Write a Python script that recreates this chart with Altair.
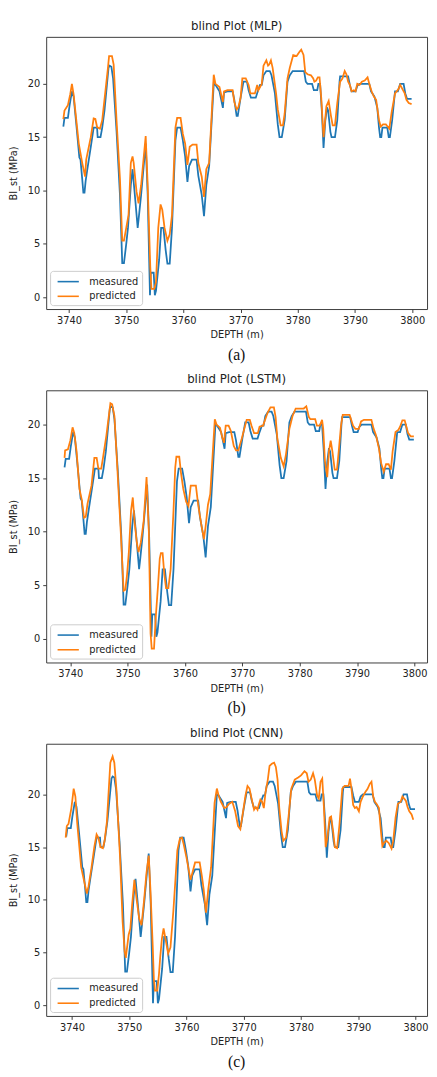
import altair as alt
import pandas as pd

# ---------------- data ----------------
MEAS_DEPTH = [3739.0, 3739.2, 3739.8, 3740.1, 3740.5, 3740.8, 3741.3, 3741.8, 3742.0, 3742.3,
              3742.5, 3742.7, 3742.9, 3743.2, 3743.8, 3744.3, 3744.9, 3745.0, 3745.5, 3745.8,
              3746.2, 3746.9, 3747.1, 3747.4, 3747.7, 3748.3, 3748.9, 3749.3, 3749.6, 3750.0,
              3750.3, 3750.8, 3751.1, 3751.6, 3752.0, 3752.2, 3752.6, 3753.4, 3753.75, 3754.15,
              3754.3, 3754.8, 3755.0, 3755.2, 3755.75, 3756.1, 3756.5, 3756.9, 3757.2, 3757.6,
              3758.0, 3758.6, 3758.9, 3759.5, 3759.9, 3760.3, 3760.7, 3761.0, 3761.5, 3762.3,
              3762.6, 3763.2, 3763.6, 3764.0, 3764.5, 3765.3, 3765.6, 3766.3, 3766.9, 3767.1,
              3767.7, 3768.6, 3768.9, 3769.3, 3769.5, 3770.0, 3770.5, 3771.1, 3771.4, 3771.8,
              3772.65, 3773.0, 3773.4, 3773.7, 3774.0, 3774.5, 3775.1, 3775.4, 3776.0, 3776.5,
              3776.8, 3777.2, 3777.7, 3778.2, 3778.6, 3779.1, 3781.1, 3781.4, 3781.7, 3782.5,
              3782.8, 3783.4, 3783.6, 3783.9, 3784.2, 3784.5, 3784.8, 3785.1, 3785.3, 3785.7,
              3785.9, 3786.5, 3786.9, 3787.3, 3787.4, 3788.8, 3789.1, 3789.4, 3790.1, 3790.4,
              3790.8, 3792.5, 3792.8, 3793.4, 3793.9, 3794.2, 3794.4, 3794.6, 3794.8, 3795.65,
              3795.9, 3796.1, 3796.5, 3797.0, 3797.5, 3797.9, 3798.5, 3798.8, 3799.1, 3799.9]
MEAS_VALUE = [16.0, 16.8, 16.8, 18.0, 19.3, 18.8, 16.0, 13.1, 12.9, 11.1,
              9.8, 9.8, 10.9, 12.0, 14.1, 15.9, 15.9, 15.0, 15.0, 15.9,
              17.5, 21.5, 21.7, 21.6, 20.5, 15.6, 9.6, 3.2, 3.2, 5.0,
              6.5, 10.5, 12.0, 9.0, 6.5, 7.5, 9.6, 14.4, 9.6, 0.2,
              2.3, 2.3, 0.2, 0.6, 3.5, 6.5, 6.5, 4.4, 3.15, 3.15,
              6.5, 14.7, 15.9, 15.9, 14.7, 13.2, 10.8, 12.3, 12.9, 12.9,
              11.4, 9.6, 7.6, 10.5, 12.3, 20.0, 19.9, 19.3, 17.75, 19.2,
              19.3, 19.3, 18.5, 17.0, 17.0, 18.7, 20.2, 20.2, 19.4, 18.7,
              18.7, 19.3, 19.9, 19.9, 20.8, 21.2, 21.2, 20.8, 19.1, 16.2,
              15.0, 15.0, 16.6, 20.2, 20.8, 21.2, 21.2, 20.2, 20.0, 20.0,
              19.4, 19.4, 20.0, 20.0, 17.5, 14.0, 16.5, 17.8, 17.5, 15.5,
              15.0, 15.0, 16.6, 20.2, 20.7, 20.7, 19.9, 19.3, 19.3, 19.8,
              20.0, 20.0, 19.3, 18.8, 17.75, 15.9, 15.0, 15.0, 15.9, 15.9,
              15.0, 15.0, 16.6, 19.3, 19.3, 20.0, 20.0, 19.1, 18.6, 18.6]

MLP_DEPTH = [3739.0, 3739.2, 3739.8, 3740.2, 3740.5, 3740.8, 3741.7, 3742.3, 3742.8, 3743.0,
             3743.8, 3744.3, 3744.6, 3744.9, 3745.4, 3745.8, 3746.8, 3747.0, 3747.5, 3747.8,
             3748.3, 3748.9, 3749.3, 3749.6, 3750.0, 3750.4, 3750.8, 3751.1, 3751.3, 3751.8,
             3752.15, 3752.6, 3753.4, 3753.75, 3754.2, 3754.4, 3754.9, 3755.2, 3755.6, 3756.0,
             3756.3, 3756.7, 3757.2, 3757.6, 3758.0, 3758.6, 3758.9, 3759.5, 3759.9, 3760.3,
             3760.7, 3761.1, 3761.6, 3762.3, 3762.6, 3763.2, 3763.6, 3764.0, 3764.5, 3765.3,
             3765.6, 3766.3, 3766.9, 3767.1, 3767.7, 3768.6, 3768.9, 3769.3, 3769.6, 3770.0,
             3770.3, 3770.9, 3771.4, 3771.7, 3772.5, 3772.9, 3773.1, 3773.4, 3773.7, 3774.0,
             3774.5, 3774.8, 3775.0, 3775.3, 3775.6, 3776.2, 3776.5, 3777.0, 3777.4, 3777.7,
             3778.2, 3778.6, 3779.2, 3779.8, 3780.3, 3780.6, 3781.0, 3781.3, 3781.7, 3782.3,
             3782.7, 3782.9, 3783.2, 3783.5, 3783.8, 3784.1, 3784.5, 3785.0, 3785.4, 3785.8,
             3786.1, 3786.5, 3786.9, 3787.4, 3787.8, 3788.2, 3788.5, 3788.8, 3789.1, 3789.4,
             3789.8, 3790.1, 3790.4, 3790.8, 3791.2, 3791.7, 3792.2, 3792.5, 3792.9, 3793.3,
             3793.7, 3794.2, 3794.5, 3794.9, 3795.4, 3795.7, 3796.0, 3796.4, 3797.0, 3797.6,
             3797.9, 3798.3, 3798.7, 3799.0, 3799.4, 3799.9]
MLP_VALUE = [16.7, 17.5, 18.0, 19.0, 20.0, 19.0, 14.4, 12.6, 11.3, 12.9,
             15.0, 16.75, 16.7, 15.95, 15.8, 16.6, 21.5, 22.6, 22.6, 21.8,
             16.6, 11.1, 5.3, 5.3, 6.5, 7.7, 12.6, 13.2, 12.6, 9.9,
             8.8, 10.5, 15.1, 10.5, 2.9, 0.8, 0.8, 1.4, 6.5, 8.7,
             8.2, 6.5, 5.3, 5.9, 7.7, 15.9, 16.8, 16.8, 15.3, 14.4,
             12.4, 14.1, 14.3, 14.3, 12.6, 11.3, 9.4, 12.0, 12.6, 20.85,
             20.0, 19.7, 18.3, 19.3, 19.4, 19.4, 18.3, 17.6, 17.8, 18.7,
             20.5, 20.5, 19.9, 19.1, 19.1, 19.9, 19.4, 19.7, 20.0, 21.7,
             22.2, 21.7, 21.8, 22.2, 21.5, 19.1, 17.6, 16.1, 16.1, 17.2,
             20.5, 21.5, 22.7, 22.6, 23.0, 23.2, 22.7, 21.1, 20.9, 20.8,
             20.5, 20.2, 20.3, 20.6, 20.6, 18.7, 15.0, 17.9, 18.4, 17.0,
             16.1, 16.1, 18.2, 20.2, 20.5, 21.2, 20.9, 20.2, 19.9, 19.3,
             19.4, 19.3, 20.0, 19.9, 20.2, 20.3, 20.6, 20.0, 19.3, 18.8,
             18.5, 16.6, 16.0, 16.2, 16.2, 16.0, 15.8, 17.3, 19.1, 19.5,
             19.9, 19.5, 19.1, 18.5, 18.2, 18.1]

LSTM_DEPTH = [3739.0, 3739.1, 3739.6, 3740.0, 3740.4, 3740.7, 3741.1, 3741.6, 3742.0, 3742.4,
              3742.7, 3743.0, 3743.7, 3744.2, 3744.6, 3744.9, 3745.4, 3745.7, 3746.3, 3747.0,
              3747.3, 3747.7, 3748.2, 3748.8, 3749.3, 3749.6, 3749.9, 3750.2, 3750.6, 3750.9,
              3751.2, 3751.6, 3751.9, 3752.3, 3752.8, 3753.3, 3753.7, 3754.0, 3754.2, 3754.6,
              3754.9, 3755.3, 3755.6, 3755.8, 3756.1, 3756.4, 3756.7, 3757.1, 3757.5, 3758.0,
              3758.3, 3758.5, 3759.0, 3759.3, 3759.7, 3760.2, 3760.6, 3761.0, 3761.9, 3762.3,
              3762.9, 3763.3, 3763.6, 3764.0, 3764.4, 3765.2, 3765.5, 3766.1, 3766.5, 3766.8,
              3767.1, 3767.6, 3768.0, 3768.5, 3768.9, 3769.3, 3769.9, 3770.75, 3771.3, 3771.6,
              3772.05, 3772.7, 3773.0, 3773.6, 3774.4, 3774.9, 3775.5, 3775.8, 3776.1, 3776.7,
              3777.2, 3777.6, 3778.2, 3778.75, 3779.3, 3780.7, 3781.15, 3781.6, 3781.85, 3782.7,
              3783.0, 3783.5, 3783.9, 3784.1, 3784.4, 3784.8, 3785.1, 3785.4, 3785.7, 3786.1,
              3786.5, 3786.8, 3787.2, 3787.5, 3788.7, 3789.0, 3789.3, 3789.7, 3790.3, 3790.7,
              3791.2, 3792.5, 3792.9, 3793.3, 3793.8, 3794.2, 3794.65, 3795.05, 3795.5, 3795.9,
              3796.2, 3796.7, 3797.2, 3797.5, 3797.9, 3798.3, 3798.6, 3798.9, 3799.35, 3799.9]
LSTM_VALUE = [16.9, 17.6, 17.7, 18.5, 19.75, 19.2, 17.5, 14.0, 13.0, 11.3,
              11.4, 12.6, 14.3, 16.9, 16.9, 15.9, 15.9, 16.9, 19.0, 22.0,
              21.9, 20.8, 16.0, 10.0, 4.5, 4.6, 6.0, 8.0, 12.0, 13.2,
              11.0, 9.0, 8.1, 9.0, 11.0, 15.1, 10.0, 0.5, -0.9, -0.9,
              2.0, 5.0, 7.5, 8.0, 8.0, 6.0, 4.75, 4.75, 6.5, 12.0,
              16.0, 17.0, 17.0, 15.5, 14.0, 12.8, 12.4, 14.3, 14.3, 12.5,
              10.5, 9.3, 10.5, 12.5, 13.5, 20.5, 20.0, 19.7, 18.8, 18.3,
              19.9, 19.9, 19.4, 18.0, 17.6, 17.6, 18.7, 20.45, 20.45, 19.9,
              19.2, 19.2, 19.8, 19.9, 21.1, 21.6, 21.6, 20.7, 18.7, 16.9,
              16.1, 17.2, 19.6, 20.8, 21.5, 21.5, 21.7, 20.7, 20.5, 20.5,
              19.9, 19.9, 20.45, 19.6, 16.6, 15.1, 17.5, 18.5, 17.5, 15.8,
              15.8, 17.5, 19.9, 20.9, 20.9, 20.4, 19.9, 19.6, 19.6, 20.3,
              20.45, 20.45, 19.6, 19.0, 17.8, 16.4, 15.6, 16.3, 16.3, 15.8,
              17.5, 19.3, 19.5, 19.8, 20.4, 20.4, 19.8, 19.2, 18.9, 18.9]

CNN_DEPTH = [3738.9, 3739.1, 3739.4, 3739.9, 3740.3, 3740.6, 3740.9, 3741.6, 3742.2, 3742.6,
             3742.9, 3743.4, 3743.9, 3744.3, 3744.6, 3745.0, 3745.4, 3745.7, 3746.1, 3746.7,
             3747.1, 3747.4, 3747.8, 3748.4, 3748.85, 3749.2, 3749.4, 3749.9, 3750.2, 3750.5,
             3750.9, 3751.3, 3751.75, 3752.15, 3752.6, 3753.0, 3753.4, 3753.7, 3754.1, 3754.3,
             3754.5, 3754.9, 3755.2, 3755.4, 3755.7, 3756.0, 3756.4, 3756.8, 3757.2, 3757.7,
             3758.4, 3758.85, 3759.2, 3759.5, 3760.0, 3760.7, 3761.0, 3761.5, 3762.3, 3762.7,
             3763.0, 3763.4, 3763.8, 3764.3, 3764.9, 3765.3, 3765.6, 3766.0, 3766.6, 3767.0,
             3767.4, 3768.0, 3768.5, 3769.0, 3769.4, 3769.8, 3770.3, 3770.65, 3771.0, 3771.4,
             3771.8, 3772.1, 3772.4, 3772.6, 3772.9, 3773.2, 3773.5, 3773.8, 3774.2, 3774.5,
             3774.9, 3775.3, 3775.6, 3775.9, 3776.2, 3776.6, 3776.9, 3777.4, 3777.8, 3778.3,
             3778.9, 3779.5, 3780.0, 3780.6, 3781.0, 3781.3, 3781.7, 3782.1, 3782.4, 3782.8,
             3783.1, 3783.4, 3783.7, 3784.0, 3784.3, 3784.6, 3785.0, 3785.25, 3785.6, 3785.9,
             3786.3, 3786.7, 3787.2, 3787.6, 3788.3, 3788.55, 3788.8, 3789.1, 3789.4, 3789.7,
             3790.1, 3790.4, 3790.8, 3791.2, 3791.6, 3792.0, 3792.3, 3792.6, 3792.9, 3793.2,
             3793.6, 3793.95, 3794.2, 3794.5, 3794.9, 3795.3, 3795.8, 3796.1, 3796.5, 3796.9,
             3797.4, 3797.7, 3798.0, 3798.3, 3798.6, 3798.9, 3799.3, 3799.6]
CNN_VALUE = [15.9, 17.0, 17.2, 18.7, 20.55, 19.8, 17.4, 13.1, 11.6, 10.6,
             11.3, 13.0, 15.0, 16.2, 15.9, 15.0, 14.9, 15.6, 17.4, 23.0,
             23.6, 23.0, 20.2, 14.0, 7.9, 5.1, 4.5, 6.7, 7.3, 9.5,
             11.9, 10.0, 8.2, 7.6, 10.0, 12.5, 14.2, 11.0, 5.7, 2.5,
             1.4, 1.4, 3.0, 4.5, 6.3, 7.3, 6.1, 4.9, 5.5, 8.9,
             14.7, 15.8, 15.9, 15.3, 14.0, 11.9, 12.5, 13.55, 13.55, 12.2,
             11.0, 8.8, 11.0, 13.1, 19.2, 20.55, 19.9, 19.3, 18.7, 18.8,
             19.1, 19.3, 18.4, 17.0, 16.7, 18.1, 19.9, 20.8, 20.55, 19.5,
             18.55, 18.8, 18.55, 19.0, 19.5, 19.3, 18.7, 20.2, 21.4, 22.7,
             22.9, 23.0, 22.6, 21.4, 18.7, 16.5, 15.6, 15.9, 17.8, 20.55,
             21.4, 21.6, 21.8, 22.2, 22.0, 21.2, 21.4, 22.0, 21.4, 19.9,
             19.6, 21.2, 21.5, 18.7, 15.0, 15.9, 17.8, 17.9, 16.5, 15.0,
             14.9, 17.1, 20.55, 20.8, 20.8, 21.5, 20.55, 19.0, 18.7, 18.8,
             18.4, 19.3, 19.8, 20.2, 20.5, 21.0, 21.2, 19.8, 19.3, 19.1,
             18.7, 16.5, 15.1, 15.4, 15.6, 15.4, 14.85, 15.6, 17.8, 19.1,
             19.3, 19.8, 19.6, 19.4, 18.8, 18.4, 18.1, 17.6]

TITLES = ["blind Plot (MLP)", "blind Plot (LSTM)", "blind Plot (CNN)"]
CAPTIONS = ["(a)", "(b)", "(c)"]
SERIES = ["measured", "predicted"]
COLORS = ["#1f77b4", "#ff7f0e"]
X_DOMAINS = [[3736.0, 3802.6], [3735.8, 3802.2], [3735.5, 3802.0]]
Y_DOMAINS = [[-1.1, 24.4], [-2.2, 23.2], [-1.0, 24.8]]
X_TICKS = [3740, 3750, 3760, 3770, 3780, 3790, 3800]
Y_TICKS = [0, 5, 10, 15, 20]

W = 389
H = 278
FONT = "DejaVu Sans"


def panel(pred_depth, pred_value, title, caption, xdom, ydom):
    df = pd.DataFrame({
        "depth": MEAS_DEPTH + pred_depth,
        "value": MEAS_VALUE + pred_value,
        "series": [SERIES[0]] * len(MEAS_DEPTH) + [SERIES[1]] * len(pred_depth),
    })
    lines = alt.Chart(df).mark_line(strokeWidth=1.8).encode(
        x=alt.X("depth:Q",
                scale=alt.Scale(domain=xdom, nice=False, zero=False),
                axis=alt.Axis(title="DEPTH (m)", values=X_TICKS, format="d")),
        y=alt.Y("value:Q",
                scale=alt.Scale(domain=ydom, nice=False, zero=False),
                axis=alt.Axis(title="BI_st (MPa)", values=Y_TICKS, format="d")),
        color=alt.Color("series:N",
                        scale=alt.Scale(domain=SERIES, range=COLORS),
                        legend=alt.Legend(title=None, orient="bottom-left", offset=4)),
    )
    cap = alt.Chart(pd.DataFrame({"cap": [caption]})).mark_text(
        font="Liberation Serif", fontSize=16, baseline="middle", align="center", color="#111"
    ).encode(text="cap:N", x=alt.value(W / 2), y=alt.value(H + 47))
    return alt.layer(lines, cap).properties(width=W, height=H, title=alt.Title(title))


charts = [panel(d, v, t, c, xd, yd) for d, v, t, c, xd, yd in zip(
    [MLP_DEPTH, LSTM_DEPTH, CNN_DEPTH],
    [MLP_VALUE, LSTM_VALUE, CNN_VALUE],
    TITLES, CAPTIONS, X_DOMAINS, Y_DOMAINS)]

chart = alt.vconcat(*charts, spacing=9).resolve_legend(
    color="independent"
).resolve_scale(
    x="independent", y="independent"
).properties(
    padding={"left": 0, "top": 0, "right": 0, "bottom": 0}
).configure(font=FONT).configure_view(
    stroke="#3a3a3a", strokeWidth=1
).configure_axis(
    grid=False, domain=False, tickColor="#3a3a3a", tickSize=3.5, tickWidth=1,
    labelFont=FONT, labelFontSize=10, labelColor="#222", labelPadding=3,
    titleFont=FONT, titleFontSize=10, titleColor="#222", titleFontWeight="normal",
).configure_axisY(titlePadding=9).configure_axisX(titlePadding=5).configure_title(
    font=FONT, fontSize=12, fontWeight="normal", color="#222", offset=4, anchor="middle"
).configure_legend(
    padding=3.5, rowPadding=2,
    symbolType="M-1.67,0H1.67", symbolSize=169, symbolStrokeWidth=1.6,
    symbolOffset=7.5, labelOffset=14, labelFont=FONT, labelFontSize=10, labelColor="#222",
    strokeColor="#cccccc", fillColor="#ffffff", cornerRadius=3,
)

chart.save("out.html", embed_options={"renderer": "svg", "actions": False})
